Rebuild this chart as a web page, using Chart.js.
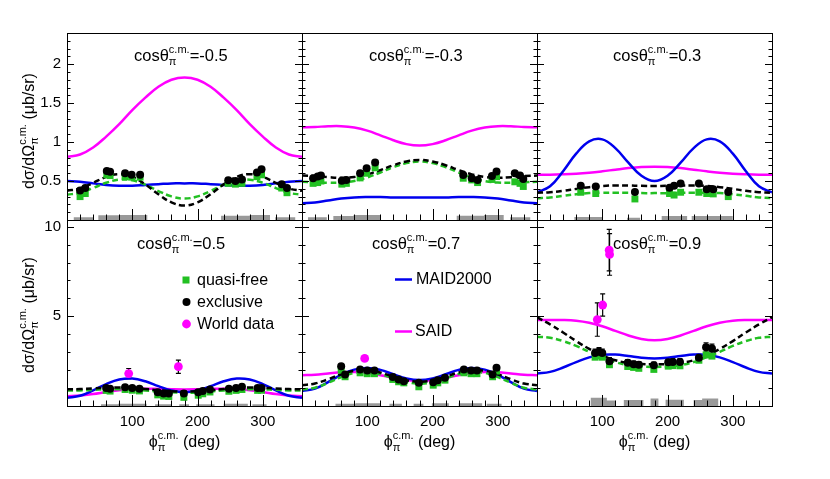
<!DOCTYPE html>
<html><head><meta charset="utf-8">
<script src="https://cdn.jsdelivr.net/npm/chart.js@4.4.1/dist/chart.umd.min.js"></script>
<style>
html,body{margin:0;padding:0;background:#fff;}
#wrap{position:relative;width:830px;height:479px;overflow:hidden;background:#fff;}
#wrap canvas{position:absolute;left:0;top:0;}
</style></head>
<body><div id="wrap"></div>
<script>
// ---------- data ----------
const phiCurve = [0,20,40,60,80,100,120,140,160,180,200,220,240,260,280,300,320,340,360];
const cosLabels = ['-0.5','-0.3','0.3','0.5','0.7','0.9'];
const xTickLabels = [100,200,300];
const yTickLabelsTop = [0.5,1,1.5,2];
const yTickLabelsBottom = [5,10];

// panel 1: cos = -0.5
const p1Said = [0.81,0.84,0.93,1.07,1.23,1.41,1.57,1.71,1.80,1.83,1.80,1.71,1.57,1.41,1.23,1.07,0.93,0.84,0.81];
const p1Maid = [0.50,0.49,0.47,0.45,0.44,0.44,0.45,0.46,0.47,0.47,0.47,0.46,0.45,0.44,0.44,0.45,0.47,0.49,0.50];
const p1FitEx = [0.375,0.404,0.477,0.553,0.588,0.554,0.457,0.331,0.226,0.185,0.226,0.331,0.457,0.554,0.588,0.553,0.477,0.404,0.375];
const p1FitQf = [0.325,0.349,0.41,0.478,0.517,0.509,0.453,0.372,0.303,0.275,0.303,0.372,0.453,0.509,0.517,0.478,0.41,0.349,0.325];
const p1Phi = [20,28,61,66,89,99,112,247,258,268,291,298,329,337];
const p1Ex = [0.38,0.41,0.63,0.62,0.60,0.58,0.58,0.51,0.50,0.52,0.61,0.65,0.46,0.41];
const p1Qf = [0.30,0.34,0.58,0.57,0.556,0.55,0.55,0.47,0.46,0.47,0.556,0.58,0.41,0.35];
const p1SysPhi = [10,41,48,80,123,236,280,311,319,350];
const p1SysH = [0.035,0,0.06,0.064,0,0.055,0.064,0,0.035,0];

// panel 2: cos = -0.3
const p2Said = [1.19,1.194,1.203,1.204,1.187,1.147,1.087,1.023,0.974,0.955,0.974,1.023,1.087,1.147,1.187,1.204,1.203,1.194,1.19];
const p2Maid = [0.215,0.225,0.25,0.275,0.29,0.295,0.295,0.29,0.29,0.29,0.29,0.29,0.295,0.295,0.29,0.275,0.25,0.225,0.215];
const p2FitEx = [0.57,0.564,0.55,0.541,0.551,0.586,0.641,0.703,0.752,0.77,0.752,0.703,0.641,0.586,0.551,0.541,0.55,0.564,0.57];
const p2FitQf = [0.49,0.486,0.479,0.48,0.50,0.546,0.61,0.678,0.73,0.75,0.73,0.678,0.61,0.546,0.50,0.48,0.479,0.486,0.49];
const p2Phi = [17,24,29,61,68,89,99,112,247,260,269,291,298,326,334,339];
const p2Ex = [0.536,0.557,0.57,0.505,0.514,0.60,0.665,0.737,0.578,0.536,0.514,0.566,0.621,0.60,0.57,0.527];
const p2Qf = [0.47,0.48,0.50,0.46,0.47,0.54,0.60,0.67,0.536,0.514,0.48,0.52,0.557,0.49,0.47,0.43];
const p2SysPhi = [9,38,48,79,120,237,279,309,319,350];
const p2SysH = [0.035,0,0.05,0.064,0,0.055,0.064,0,0.035,0];

// panel 3: cos = 0.3
const p3Said = [0.58,0.581,0.586,0.594,0.607,0.625,0.646,0.666,0.68,0.685,0.68,0.666,0.646,0.625,0.607,0.594,0.586,0.581,0.58];
const p3Maid = [0.356,0.432,0.626,0.851,1.01,1.035,0.923,0.736,0.568,0.50,0.568,0.736,0.923,1.035,1.01,0.851,0.626,0.432,0.356];
const p3FitEx = [0.35,0.357,0.375,0.399,0.421,0.437,0.443,0.442,0.439,0.437,0.439,0.442,0.443,0.437,0.421,0.399,0.375,0.357,0.35];
const p3FitQf = [0.28,0.29,0.31,0.33,0.345,0.35,0.35,0.35,0.345,0.345,0.345,0.35,0.35,0.35,0.345,0.33,0.31,0.29,0.28];
const p3Phi = [67,90,150,203,210,220,248,260,270,293];
const p3Ex = [0.44,0.43,0.36,0.415,0.44,0.47,0.47,0.395,0.395,0.36];
const p3Qf = [0.356,0.34,0.27,0.34,0.32,0.356,0.356,0.34,0.335,0.30];
const p3SysPhi = [57,100,138,158,191,230,237,300];
const p3SysH = [0.04,0,0.03,0,0.05,0,0.05,0];

// panel 4: cos = 0.5
const p4Said = [0.55,0.583,0.669,0.781,0.882,0.946,0.966,0.953,0.931,0.92,0.931,0.953,0.966,0.946,0.882,0.781,0.669,0.583,0.55];
const p4Maid = [0.455,0.572,0.871,1.222,1.475,1.529,1.378,1.109,0.864,0.765,0.864,1.109,1.378,1.529,1.475,1.222,0.871,0.572,0.455];
const p4FitEx = [0.93,0.944,0.979,1.014,1.027,1.004,0.949,0.879,0.822,0.80,0.822,0.879,0.949,1.004,1.027,1.014,0.979,0.944,0.93];
const p4FitQf = [0.86,0.87,0.90,0.93,0.94,0.92,0.87,0.81,0.76,0.74,0.76,0.81,0.87,0.92,0.94,0.93,0.90,0.87,0.86];
const p4Phi = [60,66,89,100,111,139,148,156,179,201,208,219,248,259,268,292,298];
const p4Ex = [1.01,0.96,1.05,1.01,0.96,0.77,0.70,0.70,0.70,0.77,0.83,0.92,0.96,1.01,1.07,1.01,1.01];
const p4Qf = [0.87,0.83,0.92,0.88,0.84,0.62,0.55,0.53,0.48,0.60,0.68,0.78,0.82,0.87,0.92,0.87,0.88];
const p4SysPhi = [52,78,122,135,160,172,187,198,226,240,277,284,306];
const p4SysH = [0.1,0.12,0,0.1,0,0.1,0,0.1,0,0.12,0,0.1,0];
const p4WorldPhi = [94.5,170.6];
const p4World = [1.81,2.19];
const p4WorldErr = [0.28,0.37];

// panel 5: cos = 0.7
const p5Said = [1.72,1.747,1.815,1.88,1.898,1.842,1.72,1.569,1.447,1.40,1.447,1.569,1.72,1.842,1.898,1.88,1.815,1.747,1.72];
const p5Maid = [0.835,0.965,1.33,1.74,2.03,2.124,2.013,1.771,1.539,1.445,1.539,1.771,2.013,2.124,2.03,1.74,1.33,0.965,0.835];
const p5FitEx = [1.16,1.254,1.492,1.77,1.965,1.999,1.866,1.638,1.432,1.35,1.432,1.638,1.866,1.999,1.965,1.77,1.492,1.254,1.16];
const p5FitQf = [0.915,1.021,1.293,1.612,1.846,1.904,1.778,1.545,1.331,1.245,1.331,1.545,1.778,1.904,1.846,1.612,1.293,1.021,0.915];
const p5Phi = [60,66,89,100,111,139,148,156,179,201,208,219,248,259,268,292,298];
const p5Ex = [2.22,1.76,2.04,1.98,1.98,1.61,1.48,1.38,1.29,1.33,1.44,1.57,2.04,1.98,1.98,1.76,2.13];
const p5Qf = [2.0,1.63,1.85,1.80,1.80,1.48,1.35,1.29,1.07,1.16,1.29,1.44,1.85,1.80,1.80,1.63,1.95];
const p5SysPhi = [51,82,120,134,153,171,186,199,225,240,276,283,306];
const p5SysH = [0.12,0.15,0,0.12,0,0.12,0,0.15,0,0.15,0,0.12,0];
const p5WorldPhi = [96];
const p5World = [2.65];
const p5WorldErr = [0.15];

// panel 6: cos = 0.9
const p6Said = [4.79,4.793,4.791,4.75,4.637,4.443,4.19,3.933,3.741,3.67,3.741,3.933,4.19,4.443,4.637,4.75,4.791,4.793,4.79];
const p6Maid = [1.81,1.902,2.144,2.448,2.71,2.856,2.868,2.788,2.692,2.65,2.692,2.788,2.868,2.856,2.71,2.448,2.144,1.902,1.81];
const p6FitEx = [4.95,4.55,4.10,3.62,3.18,2.82,2.55,2.40,2.34,2.33,2.34,2.40,2.55,2.82,3.18,3.62,4.10,4.55,4.95];
const p6FitQf = [3.86,3.80,3.62,3.35,3.02,2.72,2.45,2.28,2.20,2.18,2.20,2.28,2.45,2.72,3.02,3.35,3.62,3.80,3.86];
const p6Phi = [89,95,100,111,139,148,156,179,201,208,219,248,259,268];
const p6Ex = [2.95,3.03,2.95,2.50,2.41,2.33,2.30,2.27,2.44,2.46,2.46,2.69,3.27,3.20];
const p6ExErr = [0.22,0.22,0.22,0.2,0.18,0.18,0.18,0.18,0.18,0.18,0.18,0.2,0.25,0.25];
const p6Qf = [2.72,2.80,2.72,2.30,2.20,2.15,2.10,2.04,2.22,2.25,2.24,2.55,2.85,2.78];
const p6SysPhi = [82,107,120,133,163,174,186,197,225,240,253,278];
const p6SysH = [0.46,0.31,0,0.33,0,0.42,0,0.35,0,0.33,0.42,0];
const p6WorldPhi = [92.4,100.6,110.6,111.2];
const p6World = [4.82,5.63,8.69,8.45];
const p6WorldErr = [0.93,0.62,1.16,1.16];

// ---------- layout / style ----------
const FONT = "'Liberation Sans', Arial, Helvetica, sans-serif";
const BLUE = '#0000ee', MAG = '#ff00ff', GREEN = '#22c022', GRAY = '#999999';
const colLeft = [67, 302, 537], panelW = 235;
const rowTop = [33, 220], rowBottom = [220, 406], rowMax = [2.4, 10.37];
const titleX = [134, 369, 613, 137, 372, 613], titleY = [61, 249];
const AXW = 60;   // reserved width/height for the tick-label boxes

const panels = [
  {said:p1Said, maid:p1Maid, fitEx:p1FitEx, fitQf:p1FitQf, phi:p1Phi, ex:p1Ex, qf:p1Qf, sysPhi:p1SysPhi, sysH:p1SysH},
  {said:p2Said, maid:p2Maid, fitEx:p2FitEx, fitQf:p2FitQf, phi:p2Phi, ex:p2Ex, qf:p2Qf, sysPhi:p2SysPhi, sysH:p2SysH},
  {said:p3Said, maid:p3Maid, fitEx:p3FitEx, fitQf:p3FitQf, phi:p3Phi, ex:p3Ex, qf:p3Qf, sysPhi:p3SysPhi, sysH:p3SysH},
  {said:p4Said, maid:p4Maid, fitEx:p4FitEx, fitQf:p4FitQf, phi:p4Phi, ex:p4Ex, qf:p4Qf, sysPhi:p4SysPhi, sysH:p4SysH, wPhi:p4WorldPhi, w:p4World, wErr:p4WorldErr},
  {said:p5Said, maid:p5Maid, fitEx:p5FitEx, fitQf:p5FitQf, phi:p5Phi, ex:p5Ex, qf:p5Qf, sysPhi:p5SysPhi, sysH:p5SysH, wPhi:p5WorldPhi, w:p5World, wErr:p5WorldErr},
  {said:p6Said, maid:p6Maid, fitEx:p6FitEx, fitQf:p6FitQf, phi:p6Phi, ex:p6Ex, exErr:p6ExErr, qf:p6Qf, sysPhi:p6SysPhi, sysH:p6SysH, wPhi:p6WorldPhi, w:p6World, wErr:p6WorldErr}
];

const pts = (xs, ys) => xs.map((x, i) => ({x: x, y: ys[i]}));
const F = s => s + 'px ' + FONT;

function scriptWidth(ctx, base, sup, sub, tail, size) {
  ctx.font = F(size);
  let w = ctx.measureText(base).width + ctx.measureText(tail).width;
  ctx.font = F(Math.round(size * 0.68));
  w += Math.max(ctx.measureText(sup).width, ctx.measureText(sub).width);
  return w;
}
function drawScript(ctx, x, y, base, sup, sub, tail, size) {
  ctx.textBaseline = 'alphabetic'; ctx.textAlign = 'left'; ctx.fillStyle = '#000';
  ctx.font = F(size);
  ctx.fillText(base, x, y);
  let cx = x + ctx.measureText(base).width;
  ctx.font = F(Math.round(size * 0.68));
  const ws = ctx.measureText(sup).width, wb = ctx.measureText(sub).width;
  ctx.fillText(sup, cx, y - size * 0.47);
  ctx.fillText(sub, cx, y + size * 0.27);
  cx += Math.max(ws, wb);
  ctx.font = F(size);
  ctx.fillText(tail, cx, y);
}

function makePanel(idx) {
  const P = panels[idx];
  const col = idx % 3, row = Math.floor(idx / 3);
  const L = colLeft[col], R = L + panelW, T = rowTop[row], B = rowBottom[row];
  const cv = document.createElement('canvas');
  cv.width = 830; cv.height = 479;
  document.getElementById('wrap').appendChild(cv);

  const errSets = [];
  if (P.exErr) errSets.push({x: P.phi, y: P.ex, e: P.exErr});
  if (P.wPhi) errSets.push({x: P.wPhi, y: P.w, e: P.wErr});

  const deco = {
    id: 'deco' + idx,
    beforeDatasetsDraw(chart) {
      const ctx = chart.ctx, xs = chart.scales.x, ys = chart.scales.y;
      ctx.save();
      ctx.strokeStyle = '#000'; ctx.lineWidth = 1.2;
      errSets.forEach(s => {
        s.x.forEach((xv, i) => {
          const px = xs.getPixelForValue(xv);
          const y1 = ys.getPixelForValue(s.y[i] + s.e[i]);
          const y2 = ys.getPixelForValue(s.y[i] - s.e[i]);
          ctx.beginPath();
          ctx.moveTo(px, y1); ctx.lineTo(px, y2);
          ctx.moveTo(px - 2.5, y1); ctx.lineTo(px + 2.5, y1);
          ctx.moveTo(px - 2.5, y2); ctx.lineTo(px + 2.5, y2);
          ctx.stroke();
        });
      });
      ctx.restore();
    },
    afterDraw(chart) {
      const ctx = chart.ctx, xs = chart.scales.x, ys = chart.scales.y;
      const a = chart.chartArea;
      ctx.save();
      ctx.strokeStyle = '#000'; ctx.lineWidth = 1;
      ctx.strokeRect(Math.round(a.left) + 0.5, Math.round(a.top) + 0.5, Math.round(a.right - a.left), Math.round(a.bottom - a.top));
      ctx.beginPath();
      for (let v = 20; v < 360; v += 20) {
        const px = Math.round(xs.getPixelForValue(v)) + 0.5;
        const len = (v % 100 === 0) ? 11 : 5.5;
        ctx.moveTo(px, a.bottom); ctx.lineTo(px, a.bottom - len);
      }
      const minor = row === 0 ? 0.1 : 1, major = row === 0 ? 0.5 : 5;
      for (let k = 1; k * minor < rowMax[row] - 1e-6; k++) {
        const v = k * minor;
        const py = Math.round(ys.getPixelForValue(v)) + 0.5;
        const isMajor = Math.abs(v / major - Math.round(v / major)) < 1e-6;
        const len = isMajor ? 7 : 3.5;
        ctx.moveTo(a.left, py); ctx.lineTo(a.left + len, py);
        ctx.moveTo(a.right, py); ctx.lineTo(a.right - len, py);
      }
      ctx.stroke();

      drawScript(ctx, titleX[idx], titleY[row], 'cos\u03b8', 'c.m.', '\u03c0', '=' + cosLabels[idx], 16.5);

      if (col === 0) {
        const w = scriptWidth(ctx, 'd\u03c3/d\u03a9', 'c.m.', '\u03c0', ' (\u03bcb/sr)', 16);
        ctx.save();
        ctx.translate(34, row === 0 ? 131 : 315);
        ctx.rotate(-Math.PI / 2);
        drawScript(ctx, -w / 2, 0, 'd\u03c3/d\u03a9', 'c.m.', '\u03c0', ' (\u03bcb/sr)', 16);
        ctx.restore();
      }
      if (row === 1) {
        const w = scriptWidth(ctx, '\u03d5', 'c.m.', '\u03c0', ' (deg)', 16);
        drawScript(ctx, (a.left + a.right) / 2 - w / 2, 447, '\u03d5', 'c.m.', '\u03c0', ' (deg)', 16);
      }
      ctx.textBaseline = 'middle'; ctx.textAlign = 'left'; ctx.font = F(16);
      if (idx === 3) {
        ctx.fillStyle = GREEN; ctx.fillRect(182.5, 276.5, 7, 7);
        ctx.fillStyle = '#000'; ctx.beginPath(); ctx.arc(186.5, 302, 4, 0, Math.PI * 2); ctx.fill();
        ctx.fillStyle = MAG; ctx.beginPath(); ctx.arc(186.5, 324, 4.4, 0, Math.PI * 2); ctx.fill();
        ctx.fillStyle = '#000';
        ctx.fillText('quasi-free', 197, 281);
        ctx.fillText('exclusive', 197, 303);
        ctx.fillText('World data', 197, 325);
      }
      if (idx === 4) {
        ctx.lineWidth = 2.5;
        ctx.strokeStyle = BLUE; ctx.beginPath(); ctx.moveTo(395, 279.5); ctx.lineTo(412, 279.5); ctx.stroke();
        ctx.strokeStyle = MAG; ctx.beginPath(); ctx.moveTo(395, 331.5); ctx.lineTo(412, 331.5); ctx.stroke();
        ctx.fillStyle = '#000';
        ctx.fillText('MAID2000', 416, 280);
        ctx.fillText('SAID', 415, 332);
      }
      ctx.restore();
    }
  };

  const lineDs = (label, ys, color, dash, order) => ({
    type: 'line', label: label, data: pts(phiCurve, ys), borderColor: color, borderWidth: 2.5,
    borderDash: dash, pointRadius: 0, tension: 0.4, fill: false, order: order
  });

  const datasets = [];
  if (P.wPhi) datasets.push({label: 'World data', data: pts(P.wPhi, P.w), pointStyle: 'circle', pointRadius: 4.4,
      backgroundColor: MAG, borderWidth: 0, order: 0});
  datasets.push({label: 'exclusive', data: pts(P.phi, P.ex), pointStyle: 'circle', pointRadius: 4,
      backgroundColor: '#000', borderWidth: 0, order: 1});
  datasets.push({label: 'quasi-free', data: pts(P.phi, P.qf), pointStyle: 'rect', pointRadius: 4.9,
      backgroundColor: GREEN, borderWidth: 0, order: 2});
  datasets.push(lineDs('fit exclusive', P.fitEx, '#000', [6, 3.5], 3));
  datasets.push(lineDs('fit quasi-free', P.fitQf, GREEN, [6, 3.5], 4));
  datasets.push(lineDs('MAID2000', P.maid, BLUE, [], 5));
  datasets.push(lineDs('SAID', P.said, MAG, [], 6));
  datasets.push({type: 'line', label: 'sys. error', data: pts(P.sysPhi, P.sysH), stepped: true, fill: 'origin',
      backgroundColor: GRAY, borderColor: GRAY, borderWidth: 0, pointRadius: 0, tension: 0, order: 7});

  new Chart(cv, {
    type: 'scatter',
    data: {datasets: datasets},
    options: {
      responsive: false, animation: false, devicePixelRatio: 1,
      layout: {padding: {left: L - AXW, top: T, right: 830 - R, bottom: 479 - B - AXW}},
      plugins: {legend: {display: false}, tooltip: {enabled: false}},
      events: [],
      scales: {
        x: {
          type: 'linear', min: 0, max: 360,
          grid: {display: false, drawTicks: false}, border: {display: false},
          ticks: {display: row === 1, padding: 7, color: '#000', font: {family: FONT, size: 15}, maxRotation: 0, autoSkip: false,
                  callback: v => String(v)},
          afterBuildTicks: s => { s.ticks = xTickLabels.map(v => ({value: v})); },
          afterFit: s => { s.height = AXW; }
        },
        y: {
          type: 'linear', min: 0, max: rowMax[row],
          grid: {display: false, drawTicks: false}, border: {display: false},
          ticks: {display: col === 0, padding: 6, color: '#000', font: {family: FONT, size: 15}, autoSkip: false,
                  callback: v => String(v)},
          afterBuildTicks: s => { s.ticks = (row === 0 ? yTickLabelsTop : yTickLabelsBottom).map(v => ({value: v})); },
          afterFit: s => { s.width = AXW; }
        }
      }
    },
    plugins: [deco]
  });
}

for (let i = 0; i < 6; i++) makePanel(i);
</script>
</body></html>
